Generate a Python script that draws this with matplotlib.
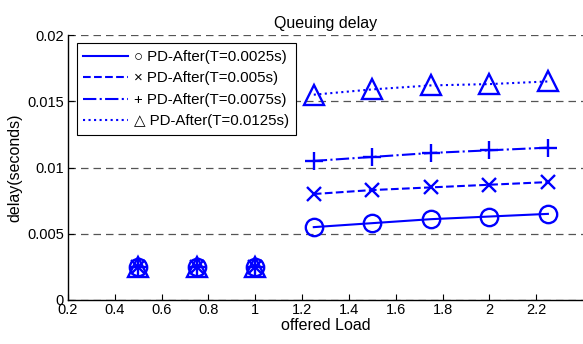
import matplotlib
matplotlib.use("Agg")
import matplotlib.pyplot as plt
from matplotlib.lines import Line2D

plt.rcParams['font.family'] = ['Liberation Sans', 'DejaVu Sans']

# offered load where the four curves coincide (no connecting line)
load_low = [0.5, 0.75, 1.0]
delay_low = [0.0025, 0.0025, 0.0025]

# offered load for the connected curves
load_high = [1.25, 1.5, 1.75, 2.0, 2.25]
delay_t0025 = [0.0055, 0.0058, 0.0061, 0.0063, 0.0065]
delay_t005 = [0.0080, 0.0083, 0.0085, 0.0087, 0.0089]
delay_t0075 = [0.0105, 0.0108, 0.0111, 0.0113, 0.0115]
delay_t0125 = [0.0155, 0.0159, 0.0162, 0.0163, 0.0165]

labels = ["\u25cb PD-After(T=0.0025s)", "\u00d7 PD-After(T=0.005s)",
          "+ PD-After(T=0.0075s)", "\u25b3 PD-After(T=0.0125s)"]
series = [delay_t0025, delay_t005, delay_t0075, delay_t0125]
styles = ['-', '--', '-.', ':']
markers = ['o', 'x', '+', '^']
msizes = [12.5, 10, 12.5, 14]

fig = plt.figure(figsize=(5.83, 3.44), dpi=100)
ax = fig.add_axes([0.1166, 0.128, 0.8834, 0.77])

for ys, ls, mk, ms in zip(series, styles, markers, msizes):
    ax.plot(load_high, ys, color='#0000ff', linestyle=ls, linewidth=1.5,
            marker=mk, markersize=ms, markerfacecolor='none',
            markeredgewidth=1.7, zorder=3)
    ax.plot(load_low, delay_low, color='#0000ff', linestyle='none',
            marker=mk, markersize=ms, markerfacecolor='none',
            markeredgewidth=1.7, zorder=3)

ax.set_xlim(0.2, 2.4)
ax.set_ylim(0, 0.02)
ax.set_xticks([0.2, 0.4, 0.6, 0.8, 1.0, 1.2, 1.4, 1.6, 1.8, 2.0, 2.2])
ax.set_xticklabels(['0.2', '0.4', '0.6', '0.8', '1', '1.2', '1.4', '1.6',
                    '1.8', '2', '2.2'])
ax.set_yticks([0, 0.005, 0.01, 0.015, 0.02])
ax.set_yticklabels(['0', '0.005', '0.01', '0.015', '0.02'])
ax.tick_params(direction='in', length=4, width=0.8, labelsize=10.5, pad=3)
ax.tick_params(axis='x', pad=2)

for s in ['top', 'right']:
    ax.spines[s].set_visible(False)
ax.spines['left'].set_linewidth(1.0)
ax.spines['bottom'].set_linewidth(1.0)

ax.yaxis.grid(True, linestyle=(0, (6, 4)), color='#555555', linewidth=0.9)
ax.set_axisbelow(True)

ax.set_title('Queuing delay', fontsize=11.5, pad=5)
ax.set_xlabel('offered Load', fontsize=11.5, labelpad=1)
ax.set_ylabel('delay(seconds)', fontsize=11.5, labelpad=3)

handles = [Line2D([], [], color='#0000ff', linestyle=ls, linewidth=1.5)
           for ls in styles]
leg = ax.legend(handles, labels, loc='upper left', bbox_to_anchor=(0.017, 0.97),
                fontsize=10.8, frameon=True, fancybox=False, framealpha=1,
                edgecolor='black', handlelength=3.0, handletextpad=0.4,
                labelspacing=0.5, borderpad=0.45, borderaxespad=0)
leg.get_frame().set_linewidth(0.8)

fig.savefig('out.png', dpi=100)
